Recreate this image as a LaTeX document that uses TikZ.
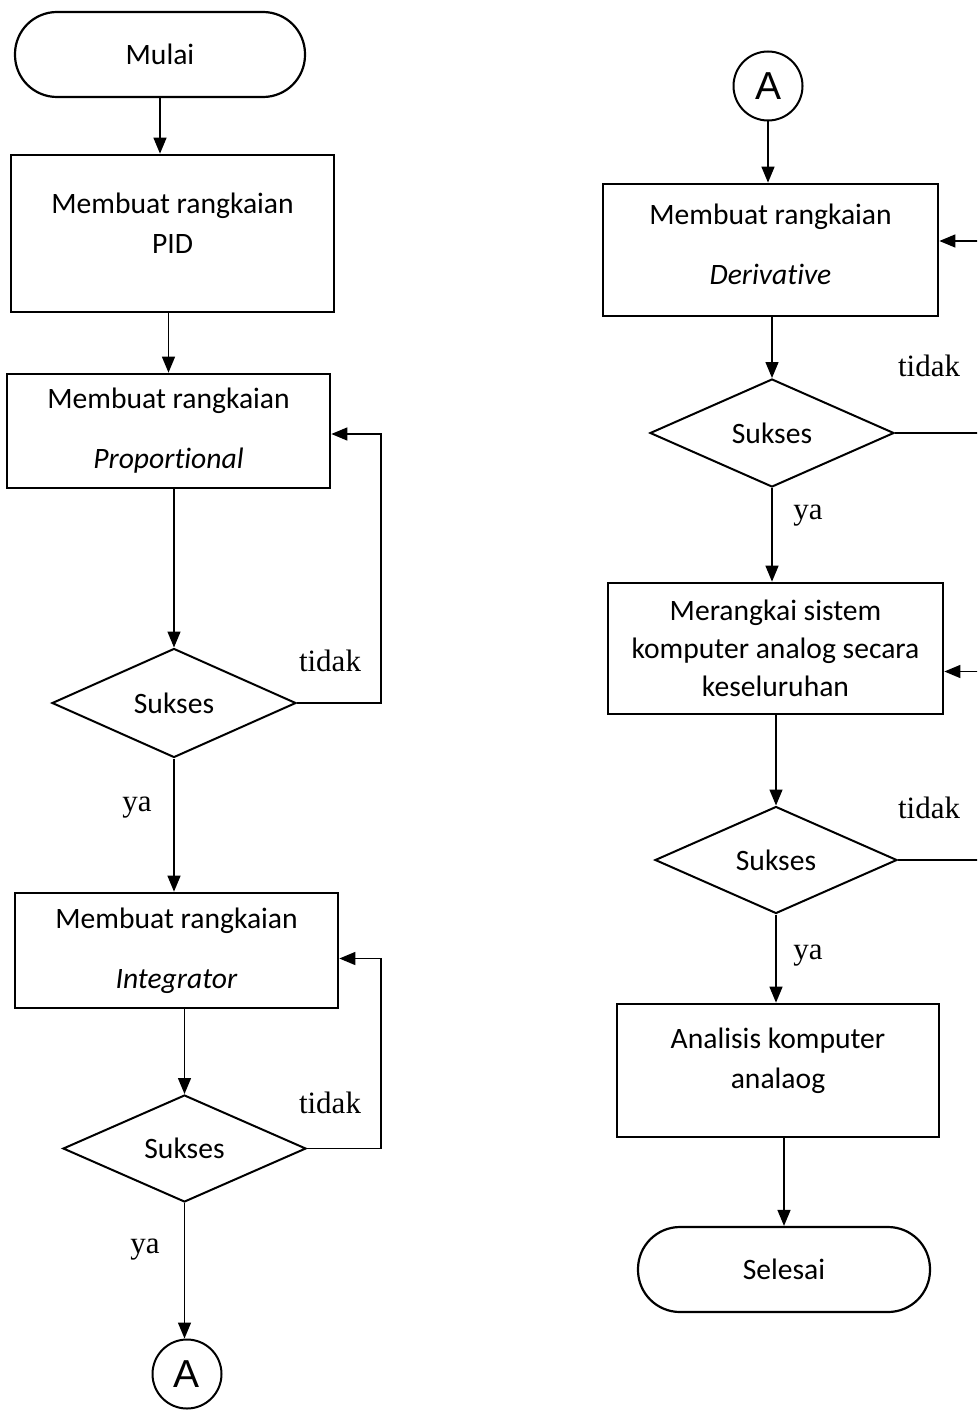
\documentclass[tikz,border=0pt]{standalone}
\usepackage{fontspec}
\usepackage{tikz}
\usetikzlibrary{positioning, shapes.geometric, arrows.meta}
\newfontfamily\boxfont[Ligatures=NoCommon]{Carlito}
\newfontfamily\answerfont{Liberation Serif}
\newfontfamily\connfont{Liberation Sans}

\begin{document}
\begin{tikzpicture}[x=1pt, y=-1pt,
  procBox/.style={draw, line width=2.7pt, inner sep=0pt, align=center, font=\boxfont\fontsize{29.6}{40}\selectfont},
  termBox/.style={procBox, line width=2.2pt, rounded corners=42pt},
  decision/.style={diamond, draw, line width=2pt, inner sep=0pt, aspect=2.2, font=\boxfont\fontsize{29.6}{35}\selectfont},
  connA/.style={circle, draw, line width=2pt, minimum size=69pt, inner sep=0pt, font=\connfont\fontsize{39}{39}\selectfont},
  flow/.style={-{Triangle[length=16pt, width=13pt]}, line width=1.4pt},
  answer/.style={font=\answerfont\fontsize{31}{31}\selectfont}]

  \useasboundingbox (0,0) rectangle (977,1410);
  \clip (0,0) rectangle (977,1410);

  % left column
  \node[termBox, minimum width=290pt, minimum height=85pt] (mulai) at (160,54.5) {Mulai};
  \node[procBox, minimum width=323pt, minimum height=157pt,
    label={[procBox, draw=none, yshift=10pt]center:Membuat rangkaian\\PID}] (pid) at (172.5,233.5) {};
  \node[procBox, minimum width=323pt, minimum height=114pt] (prop) at (168.5,431) {Membuat rangkaian\\[20pt]\textit{Proportional}};
  \node[decision, minimum width=244pt, minimum height=109pt] (d1) at (174,703) {Sukses};
  \node[procBox, minimum width=323pt, minimum height=115pt] (integ) at (176.5,950.5) {Membuat rangkaian\\[20pt]\textit{Integrator}};
  \node[decision, minimum width=243pt, minimum height=107pt] (d2) at (184.5,1148.5) {Sukses};
  \node[connA] (conA) at (187,1374) {A};

  % right column
  \node[connA] (conB) at (768,86) {A};
  \node[procBox, minimum width=335pt, minimum height=132pt,
    label={[procBox, draw=none, yshift=6pt]center:Membuat rangkaian\\[20pt]\textit{Derivative}}] (der) at (770.5,250) {};
  \node[decision, minimum width=244pt, minimum height=108pt] (d3) at (772,433) {Sukses};
  \node[procBox, minimum width=335pt, minimum height=131pt] (merangkai) at (775.5,648.5) {Merangkai sistem\\[-2pt]komputer analog secara\\[-2pt]keseluruhan};
  \node[decision, minimum width=242pt, minimum height=107pt] (d4) at (776,860) {Sukses};
  \node[procBox, minimum width=322pt, minimum height=133pt,
    label={[procBox, draw=none, yshift=10pt]center:Analisis komputer\\analaog}] (analisis) at (778,1070.5) {};
  \node[termBox, minimum width=292pt, minimum height=85pt] (selesai) at (784,1269.5) {Selesai};

  \coordinate (loopL) at (381,0);
  \coordinate (loopR) at (1010,0);

  % main flow
  \draw[flow] (mulai.south) -- (mulai.south |- pid.north);
  \draw[flow] (prop.north |- pid.south) -- (prop.north);
  \draw[flow] (prop.south -| d1.north) -- (d1.north);
  \draw[flow] (d1.south) -- (d1.south |- integ.north);
  \draw[flow] (integ.south -| d2.north) -- (d2.north);
  \draw[flow] (d2.south) -- (d2.south |- conA.north);
  \draw[flow] (conB.south) -- (conB.south |- der.north);
  \draw[flow] (der.south -| d3.north) -- (d3.north);
  \draw[flow] (d3.south) -- (d3.south |- merangkai.north);
  \draw[flow] (merangkai.south -| d4.north) -- (d4.north);
  \draw[flow] (d4.south) -- (d4.south |- analisis.north);
  \draw[flow] (analisis.south -| selesai.north) -- (selesai.north);

  % loops back
  \draw[flow] (d1.east) -- (d1.east -| loopL) |- ([yshift=-3pt]prop.east);
  \draw[flow] (d2.east) -- (d2.east -| loopL) |- ([yshift=-8pt]integ.east);
  \draw[flow] (d3.east) -- (d3.east -| loopR) |- ([yshift=9pt]der.east);
  \draw[flow] (d4.east) -- (d4.east -| loopR) |- ([yshift=-23pt]merangkai.east);

  \foreach \pos/\txt [count=\i] in {(330,661)/tidak, (330,1103)/tidak, (929,366)/tidak, (929,808)/tidak,
      (137,808)/ya, (145,1250)/ya, (808,516)/ya, (808,956)/ya}
    \node[answer] (ans\i) at \pos {\txt};
\end{tikzpicture}
\end{document}
